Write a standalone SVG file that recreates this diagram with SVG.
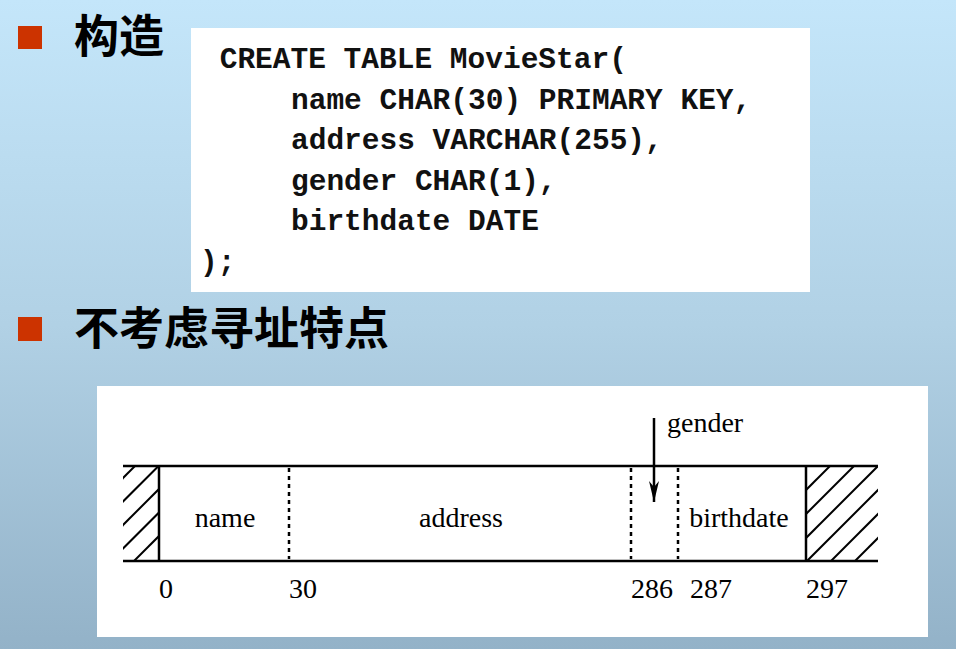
<svg xmlns="http://www.w3.org/2000/svg" width="956" height="649" viewBox="0 0 956 649">
<defs>
<linearGradient id="bg" x1="0" y1="0" x2="0" y2="1">
<stop offset="0" stop-color="#c4e6fa"/>
<stop offset="0.5" stop-color="#b1d1e5"/>
<stop offset="1" stop-color="#93b2c8"/>
</linearGradient>
<clipPath id="hl"><rect x="123" y="466" width="36" height="95"/></clipPath>
<clipPath id="hr"><rect x="806" y="466" width="72" height="95"/></clipPath>
<marker id="arr" markerWidth="22" markerHeight="12" refX="21" refY="6" markerUnits="userSpaceOnUse" orient="auto" viewBox="0 0 22 12">
<path d="M0,1 L21,6 L0,11 L6,6 Z" fill="#000"/>
</marker>
<style>
.bul{fill:#cc3300}
.h{font-family:"Noto Sans CJK SC","Noto Sans",sans-serif;font-weight:bold;font-size:45px;fill:#000}
.code{font-family:"Liberation Mono","DejaVu Sans Mono",monospace;font-weight:bold;font-size:29.5px;fill:#111}
.lab{font-family:"Liberation Serif","Times New Roman",serif;font-size:28px;fill:#000}
.solid{stroke:#000;stroke-width:2.5;fill:none}
.dot{stroke:#000;stroke-width:2.5;stroke-dasharray:4 4;fill:none}
.hatch{stroke:#000;stroke-width:2}
</style>
</defs>
<rect x="0" y="0" width="956" height="649" fill="url(#bg)"/>

<g id="heading1">
<rect class="bul" x="18" y="26" width="24" height="23"/>
<text class="h" x="74" y="53">构造</text>
</g>

<g id="code-box">
<rect x="191" y="28" width="619" height="264" fill="#fff"/>
<text class="code" x="202" y="68" xml:space="preserve"> CREATE TABLE MovieStar(</text>
<text class="code" x="291" y="109">name CHAR(30) PRIMARY KEY,</text>
<text class="code" x="291" y="149">address VARCHAR(255),</text>
<text class="code" x="291" y="190">gender CHAR(1),</text>
<text class="code" x="291" y="230">birthdate DATE</text>
<text class="code" x="200" y="271">);</text>
</g>

<g id="heading2">
<rect class="bul" x="18" y="317" width="24" height="24"/>
<text class="h" x="74" y="345">不考虑寻址特点</text>
</g>

<g id="record-box">
<rect x="97" y="386" width="831" height="251" fill="#fff"/>
<g clip-path="url(#hl)">
<line class="hatch" x1="100" y1="501" x2="200" y2="401"/>
<line class="hatch" x1="100" y1="524.5" x2="200" y2="424.5"/>
<line class="hatch" x1="100" y1="548" x2="200" y2="448"/>
<line class="hatch" x1="100" y1="571.5" x2="200" y2="471.5"/>
<line class="hatch" x1="100" y1="595" x2="200" y2="495"/>
</g>
<g clip-path="url(#hr)">
<line class="hatch" x1="780" y1="492" x2="900" y2="372"/>
<line class="hatch" x1="780" y1="516" x2="900" y2="396"/>
<line class="hatch" x1="780" y1="540" x2="900" y2="420"/>
<line class="hatch" x1="780" y1="564" x2="900" y2="444"/>
<line class="hatch" x1="780" y1="588" x2="900" y2="468"/>
<line class="hatch" x1="780" y1="612" x2="900" y2="492"/>
<line class="hatch" x1="780" y1="636" x2="900" y2="516"/>
<line class="hatch" x1="780" y1="660" x2="900" y2="540"/>
</g>
<line class="solid" x1="123" y1="466" x2="878" y2="466"/>
<line class="solid" x1="123" y1="561" x2="878" y2="561"/>
<line class="solid" x1="159" y1="466" x2="159" y2="561"/>
<line class="solid" x1="806" y1="466" x2="806" y2="561"/>
<line class="dot" x1="289" y1="468" x2="289" y2="559"/>
<line class="dot" x1="631" y1="468" x2="631" y2="559"/>
<line class="dot" x1="678" y1="468" x2="678" y2="559"/>
<text class="lab" x="225" y="527" text-anchor="middle">name</text>
<text class="lab" x="461" y="527" text-anchor="middle">address</text>
<text class="lab" x="739" y="527" text-anchor="middle">birthdate</text>
<text class="lab" x="667" y="432">gender</text>
<text class="lab" x="159" y="598">0</text>
<text class="lab" x="289" y="598">30</text>
<text class="lab" x="631" y="598">286</text>
<text class="lab" x="690" y="598">287</text>
<text class="lab" x="806" y="598">297</text>
</g>

<g id="connectors">
<line x1="654" y1="418" x2="654" y2="502" stroke="#000" stroke-width="2.5" marker-end="url(#arr)"/>
</g>
</svg>
